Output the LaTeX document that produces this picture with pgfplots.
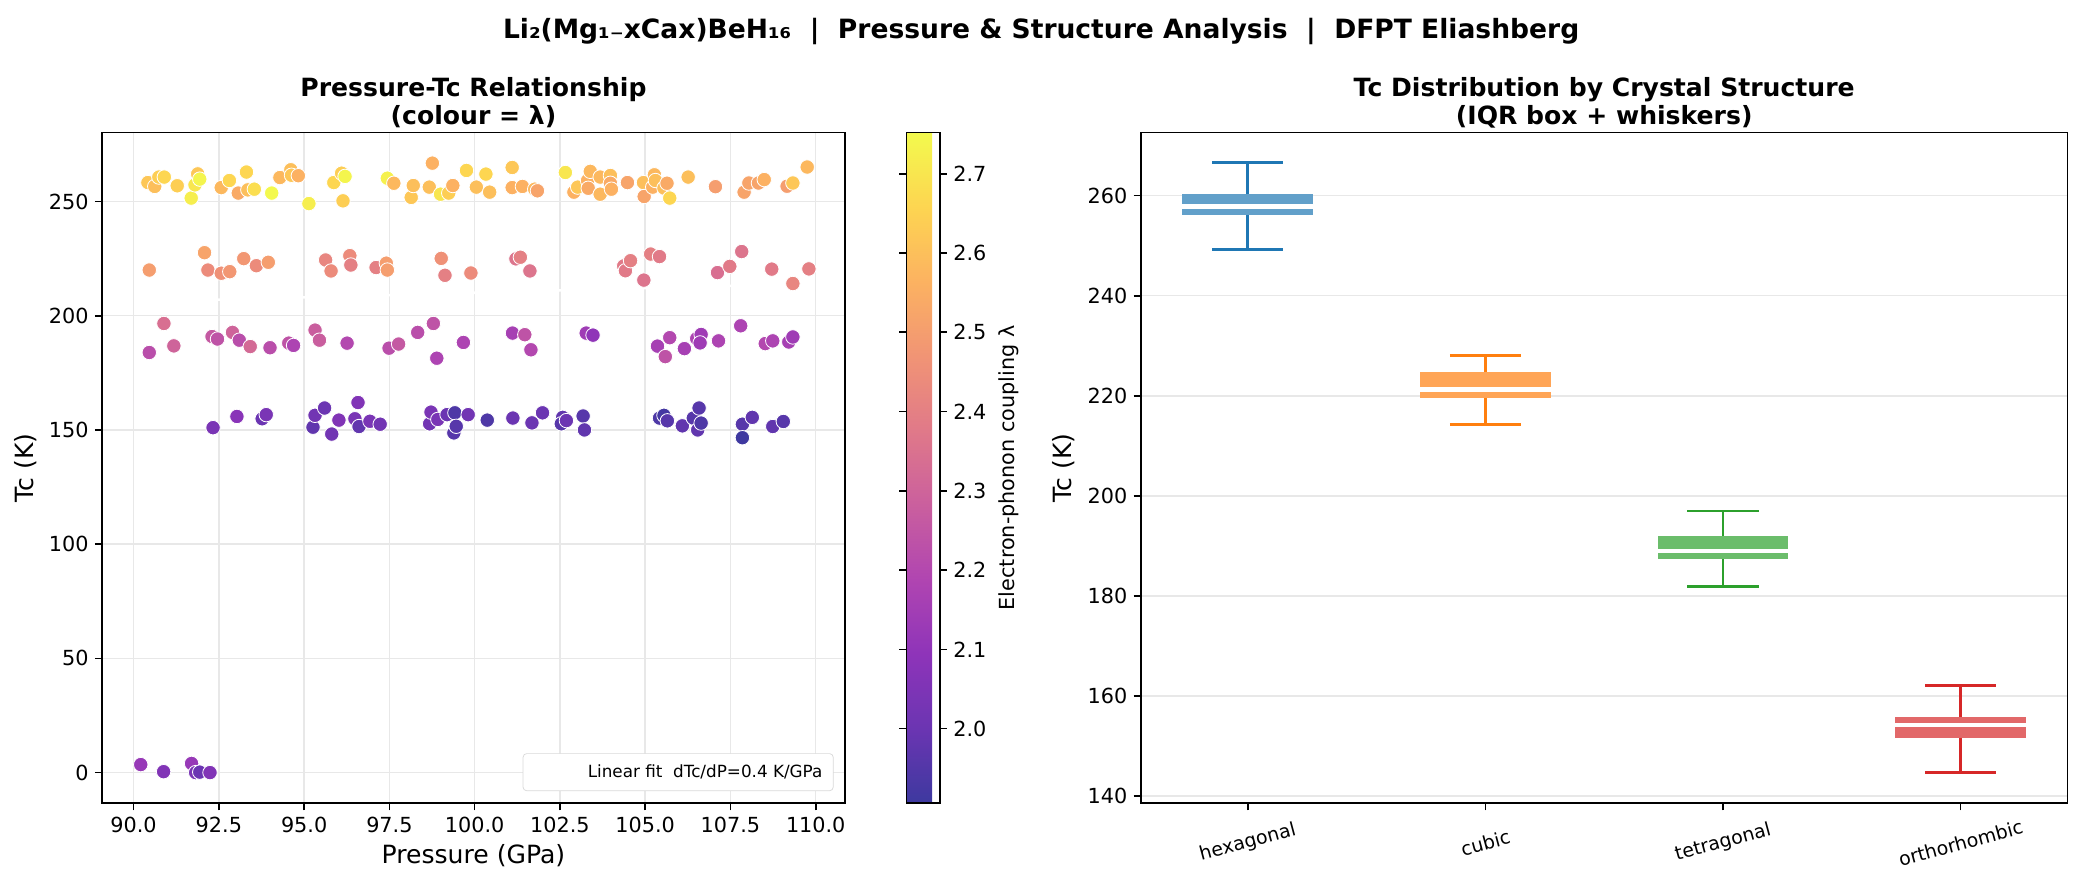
\documentclass[border=0pt]{standalone}
\usepackage{fontspec}
\setmainfont{DejaVu Sans}
\usepackage{pgfplots}
\usepackage{pgfplotstable}
\usepgfplotslibrary{statistics}
\pgfplotsset{compat=1.18}
\pgfplotsset{/pgf/number format/assume math mode=true}
\pgfplotsset{colormap={plasmab}{rgb255=(61,57,159) rgb255=(107,53,178) rgb255=(142,52,185) rgb255=(176,69,177) rgb255=(202,95,158) rgb255=(224,121,137) rgb255=(241,148,117) rgb255=(252,178,97) rgb255=(253,213,81) rgb255=(243,250,77)}}
\definecolor{c1}{RGB}{31,119,180}
\definecolor{c2}{RGB}{255,127,14}
\definecolor{c3}{RGB}{44,160,44}
\definecolor{c4}{RGB}{214,39,40}
\definecolor{c1b}{RGB}{98,160,202}
\definecolor{c2b}{RGB}{255,165,86}
\definecolor{c3b}{RGB}{107,189,107}
\definecolor{c4b}{RGB}{226,104,105}
\definecolor{gridc}{RGB}{232,232,232}

\pgfplotstableread{
P Tc lam
90.42 258.3 2.62
90.62 256.6 2.60
90.74 260.7 2.64
90.90 260.7 2.66
91.28 256.9 2.64
91.69 251.5 2.72
91.80 257.3 2.70
91.88 262.1 2.62
91.94 259.8 2.74
92.57 256.1 2.58
92.81 259.2 2.66
93.07 253.7 2.54
93.31 262.9 2.66
93.35 255.1 2.60
93.54 255.4 2.68
94.05 253.7 2.75
94.29 260.5 2.58
94.61 263.9 2.60
94.63 261.5 2.62
94.83 261.3 2.56
95.14 249.1 2.72
95.87 258.3 2.66
96.10 262.4 2.64
96.20 261.0 2.74
96.14 250.3 2.64
97.44 260.2 2.73
97.63 258.0 2.58
98.14 251.8 2.62
98.20 257.0 2.60
98.67 256.3 2.60
98.76 266.8 2.56
99.00 253.2 2.70
99.24 253.7 2.64
99.36 257.0 2.56
99.76 263.6 2.66
100.05 256.3 2.60
100.33 262.0 2.66
100.44 254.1 2.60
101.10 264.9 2.62
101.10 256.1 2.56
101.40 256.6 2.56
101.76 255.4 2.58
101.84 254.7 2.52
102.66 262.7 2.70
102.91 254.1 2.56
103.02 256.3 2.62
103.31 259.2 2.56
103.39 263.2 2.58
103.33 255.8 2.54
103.68 260.7 2.58
103.68 253.2 2.58
103.98 261.4 2.60
103.98 258.0 2.54
104.01 255.4 2.56
104.48 258.3 2.52
104.95 258.3 2.60
104.97 252.2 2.52
105.22 256.3 2.56
105.27 261.7 2.58
105.30 259.2 2.60
105.55 255.9 2.60
105.64 258.0 2.54
105.72 251.5 2.66
106.26 260.7 2.60
107.06 256.5 2.50
107.90 254.1 2.52
108.04 258.1 2.52
108.32 258.1 2.52
108.49 259.6 2.56
109.16 256.7 2.50
109.33 258.1 2.62
109.75 265.1 2.58
}\hexdata

\pgfplotstableread{
P Tc lam
90.46 220.0 2.50
92.08 227.6 2.52
92.18 220.0 2.44
92.57 218.6 2.46
92.82 219.3 2.48
93.23 225.0 2.48
93.60 221.9 2.44
93.95 223.4 2.50
95.63 224.4 2.42
95.79 219.6 2.44
96.34 226.3 2.44
96.37 222.2 2.40
97.11 221.1 2.40
97.41 223.0 2.50
97.44 220.0 2.50
99.02 225.1 2.46
99.13 217.7 2.40
99.89 218.7 2.44
101.21 224.9 2.36
101.34 225.6 2.40
101.62 219.6 2.36
104.37 221.8 2.38
104.42 219.7 2.38
104.57 224.1 2.40
104.96 215.6 2.36
105.16 227.0 2.40
105.42 225.9 2.38
107.12 218.9 2.34
107.48 221.6 2.38
107.83 228.1 2.36
108.71 220.4 2.38
109.33 214.1 2.42
109.80 220.5 2.40
}\cubdata

\pgfplotstableread{
P Tc lam
90.46 183.9 2.22
90.89 196.6 2.34
91.18 186.8 2.30
92.30 190.9 2.26
92.46 189.8 2.24
92.90 192.7 2.30
93.10 189.3 2.22
93.42 186.5 2.32
94.00 186.0 2.22
94.55 188.0 2.24
94.69 187.0 2.18
95.32 193.7 2.28
95.45 189.3 2.28
96.26 188.0 2.20
97.49 185.8 2.22
97.77 187.6 2.26
98.33 192.7 2.22
98.79 196.6 2.24
98.89 181.4 2.18
99.67 188.3 2.18
101.11 192.4 2.16
101.47 191.7 2.24
101.65 185.1 2.20
103.27 192.4 2.14
103.47 191.5 2.10
105.36 186.7 2.16
105.72 190.4 2.20
105.59 182.1 2.24
106.15 185.6 2.16
106.51 190.0 2.18
106.64 191.8 2.14
106.61 188.1 2.14
107.15 189.0 2.18
107.80 195.6 2.18
108.52 187.8 2.20
108.74 189.0 2.18
109.21 188.5 2.16
109.33 190.7 2.14
}\tetdata

\pgfplotstableread{
P Tc lam
92.33 151.0 2.04
93.03 155.9 2.08
93.77 154.9 2.00
93.89 156.7 2.04
95.26 151.2 1.98
95.32 156.4 2.02
95.60 159.6 2.00
95.81 148.2 2.02
96.02 154.3 2.06
96.49 154.9 2.04
96.58 162.0 2.06
96.61 151.5 1.98
96.93 153.8 2.04
97.23 152.5 2.02
98.68 152.7 2.02
98.72 157.8 2.04
98.92 154.6 2.04
99.19 156.7 2.00
99.39 148.7 1.96
99.42 157.5 1.94
99.46 151.6 1.96
99.81 156.7 2.02
100.37 154.3 1.94
101.12 155.2 2.00
101.68 153.1 2.00
101.99 157.5 2.00
102.58 155.5 1.98
102.54 152.7 1.96
102.69 154.1 2.00
103.18 156.1 1.96
103.22 150.0 1.98
105.42 155.2 1.94
105.55 156.4 1.92
105.65 154.0 1.96
106.09 151.8 1.98
106.41 155.2 1.96
106.58 159.6 1.96
106.54 150.0 1.98
106.64 153.0 1.94
107.85 152.5 1.96
107.85 146.6 1.91
108.14 155.5 1.98
108.74 151.5 1.98
109.05 153.7 1.96
}\ortdata

\pgfplotstableread{
P Tc lam
90.21 3.5 2.12
90.88 0.4 2.06
91.70 4.0 2.12
91.82 0.0 2.04
91.94 0.2 2.00
92.24 0.0 2.06
}\zerodata

\begin{document}
\begin{tikzpicture}
\useasboundingbox (0,0) rectangle (1153pt,490pt);
\pgfplotsset{
  myaxis/.style={
    scale only axis,
    axis line style={black, line width=0.9pt},
    tick style={black, line width=0.9pt},
    tick align=outside,
    major tick length=4pt,
    tick pos=left,
    ticklabel style={font=\fontsize{11.5}{13}\selectfont},
    label style={font=\fontsize{13.9}{16}\selectfont},
    grid style={gridc, line width=0.8pt},
  }
}
% ---------------- left: scatter ----------------
\begin{axis}[myaxis,
  at={(56.6pt,45.2pt)}, anchor=south west,
  width=411.2pt, height=371.4pt,
  xmin=89.08, xmax=110.85, ymin=-13.4, ymax=280.2,
  xtick={90,92.5,95,97.5,100,102.5,105,107.5,110},
  xticklabels={90.0,92.5,95.0,97.5,100.0,102.5,105.0,107.5,110.0},
  ytick={0,50,100,150,200,250},
  grid=major,
  xlabel={Pressure (GPa)}, ylabel={Tc (K)},
  colormap name=plasmab,
  point meta min=1.906, point meta max=2.752,
  colorbar,
  colorbar style={
    at={(parent axis.north east)}, anchor=north west, xshift=25.7pt,
    scale only axis, width=18.4pt, height=371.4pt,
    axis line style={black, line width=0.9pt},
    tick style={black, line width=0.9pt},
    tick align=outside, major tick length=4pt,
    ytick={2.0,2.1,2.2,2.3,2.4,2.5,2.6,2.7},
    yticklabels={2.0,2.1,2.2,2.3,2.4,2.5,2.6,2.7},
    yticklabel style={font=\fontsize{11.5}{13}\selectfont},
    ylabel={Electron-phonon coupling λ},
    ylabel style={font=\fontsize{11.5}{13}\selectfont},
  },
  legend style={at={(0.985,0.018)}, anchor=south east, draw=black!15,
    rounded corners=2pt, font=\fontsize{9.3}{11}\selectfont, inner sep=4pt},
  legend cell align=left,
  legend image code/.code={\draw[#1] (0cm,0cm) -- (1.0cm,0cm);},
]
\pgfplotsset{myscatter/.style={scatter, only marks, scatter src=explicit, mark=*, mark size=4.0pt,
   scatter/use mapped color={draw=white, fill=mapped color}, mark options={line width=0.45pt}, forget plot}}
\addplot[myscatter] table[x=P, y=Tc, meta=lam] {\hexdata};
\addplot[myscatter] table[x=P, y=Tc, meta=lam] {\cubdata};
\addplot[myscatter] table[x=P, y=Tc, meta=lam] {\tetdata};
\addplot[myscatter] table[x=P, y=Tc, meta=lam] {\ortdata};
\addplot[myscatter] table[x=P, y=Tc, meta=lam] {\zerodata};
\addplot[white, line width=1.4pt] coordinates {(90.1,206.1) (109.85,214.0)};
\addlegendentry{Linear fit\ \ dTc/dP=0.4 K/GPa}
\end{axis}
% ---------------- right: box plot ----------------
\begin{axis}[myaxis,
  at={(631.8pt,45.2pt)}, anchor=south west,
  width=513.2pt, height=371.4pt,
  xmin=-0.45, xmax=3.45, ymin=138.6, ymax=272.6,
  xtick={0,1,2,3},
  xticklabels={hexagonal,cubic,tetragonal,orthorhombic},
  xticklabel style={font=\fontsize{10.5}{12}\selectfont, anchor=center, yshift=-18pt, rotate=15},
  ytick={140,160,180,200,220,240,260},
  ymajorgrids,
  ylabel={Tc (K)},
]
\addplot[draw=c1, line width=1.5pt,
  boxplot/draw direction=y,
  boxplot/every box/.style={fill=c1b, draw=none},
  boxplot/every median/.style={draw=white, line width=2.6pt},
  boxplot prepared={draw position=0, median=257.8, upper quartile=260.4, lower quartile=256.1,
    upper whisker=266.6, lower whisker=249.3, box extend=0.55, whisker extend=0.3}] coordinates {};
\addplot[draw=c2, line width=1.5pt,
  boxplot/draw direction=y,
  boxplot/every box/.style={fill=c2b, draw=none},
  boxplot/every median/.style={draw=white, line width=2.6pt},
  boxplot prepared={draw position=1, median=221.3, upper quartile=224.7, lower quartile=219.6,
    upper whisker=228.0, lower whisker=214.2, box extend=0.55, whisker extend=0.3}] coordinates {};
\addplot[draw=c3, line width=1.5pt,
  boxplot/draw direction=y,
  boxplot/every box/.style={fill=c3b, draw=none},
  boxplot/every median/.style={draw=white, line width=2.6pt},
  boxplot prepared={draw position=2, median=189.0, upper quartile=191.9, lower quartile=187.4,
    upper whisker=197.0, lower whisker=181.9, box extend=0.55, whisker extend=0.3}] coordinates {};
\addplot[draw=c4, line width=1.5pt,
  boxplot/draw direction=y,
  boxplot/every box/.style={fill=c4b, draw=none},
  boxplot/every median/.style={draw=white, line width=2.6pt},
  boxplot prepared={draw position=3, median=154.2, upper quartile=155.8, lower quartile=151.6,
    upper whisker=162.1, lower whisker=144.7, box extend=0.55, whisker extend=0.3}] coordinates {};
\end{axis}
% ---------------- titles ----------------
\node[font=\bfseries\fontsize{14.7}{17}\selectfont] at (576.6pt,472.5pt)
  {Li₂(Mg₁₋xCax)BeH₁₆\ \ |\ \ Pressure \& Structure Analysis\ \ |\ \ DFPT Eliashberg};
\node[anchor=base, font=\bfseries\fontsize{13.9}{16}\selectfont] at (262.2pt,436.6pt) {Pressure-Tc Relationship};
\node[anchor=base, font=\bfseries\fontsize{13.9}{16}\selectfont] at (262.2pt,421.1pt) {(colour = λ)};
\node[anchor=base, font=\bfseries\fontsize{13.9}{16}\selectfont] at (888.4pt,436.6pt) {Tc Distribution by Crystal Structure};
\node[anchor=base, font=\bfseries\fontsize{13.9}{16}\selectfont] at (888.4pt,421.1pt) {(IQR box + whiskers)};
\end{tikzpicture}
\end{document}
